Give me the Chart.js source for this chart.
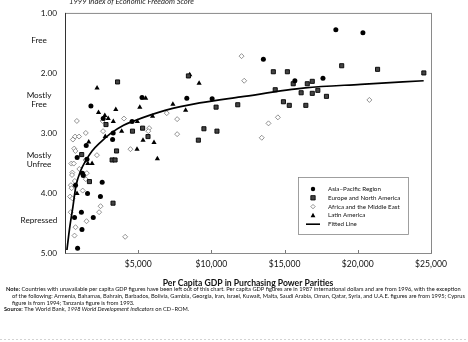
<!DOCTYPE html>
<html>
<head>
<meta charset="utf-8">
<script src="https://cdn.jsdelivr.net/npm/chart.js@4/dist/chart.umd.min.js"></script>
<style>
  html, body { margin: 0; padding: 0; background: #fff; }
  #wrap { position: relative; width: 468px; height: 342px; }
</style>
</head>
<body>
<div id="wrap"><canvas id="freedom"></canvas></div>
<script>
// Per capita GDP (PPP, 1987 intl $) vs. 1999 Index of Economic Freedom score
var asiaGdp = [1770, 2610, 4580, 5260, 8320, 10050, 13550, 15700, 17620, 18500, 20350, 3290, 3250, 1450, 830, 1500, 1190, 1250, 2540, 720, 1540, 2420, 1120, 650, 1930, 1160, 860];
var asiaScore = [2.55, 2.76, 2.81, 2.41, 2.42, 2.43, 1.77, 2.13, 2.09, 1.28, 1.33, 3.00, 3.11, 3.21, 3.41, 3.44, 3.67, 3.71, 3.82, 3.87, 4.01, 4.06, 4.32, 4.41, 4.41, 4.61, 4.92];

var europeGdp = [3590, 2800, 4610, 5300, 5670, 9490, 10380, 9110, 8430, 10320, 11800, 14230, 15190, 15590, 16550, 16890, 14360, 17270, 16130, 16890, 17860, 14920, 15320, 16450, 18900, 21350, 24510, 1140, 1670, 3280, 3520, 3220, 3420];
var europeScore = [2.15, 2.86, 2.97, 2.92, 3.06, 2.93, 2.97, 3.12, 2.05, 2.57, 2.53, 1.98, 1.98, 2.18, 2.18, 2.14, 2.28, 2.29, 2.33, 2.34, 2.39, 2.48, 2.54, 2.54, 1.88, 1.94, 2.00, 3.36, 3.81, 4.17, 3.30, 3.45, 3.45];

var africaGdp = [810, 2570, 4030, 6950, 7660, 1420, 2600, 5750, 5690, 7660, 4470, 12060, 12240, 14540, 13900, 20790, 13440, 540, 690, 960, 630, 710, 1400, 2180, 430, 600, 500, 480, 980, 1490, 1420, 400, 670, 450, 1210, 350, 510, 2430, 2330, 390, 1470, 720, 650, 4110];
var africaScore = [2.80, 2.80, 2.76, 2.67, 2.77, 3.00, 2.97, 2.92, 2.97, 3.02, 3.27, 1.72, 2.13, 2.74, 2.84, 2.45, 3.08, 3.11, 3.06, 3.06, 3.26, 3.30, 3.45, 3.37, 3.51, 3.51, 3.66, 3.70, 3.60, 3.67, 3.77, 3.87, 3.80, 3.92, 3.96, 4.06, 4.09, 4.22, 4.32, 4.32, 4.47, 4.57, 4.71, 4.73];

var latinGdp = [2190, 2290, 2720, 2950, 3300, 3470, 4940, 5510, 5110, 5980, 7370, 8240, 8520, 9160, 2750, 1620, 5330, 6080, 6310, 4920, 1560, 1850, 820, 3870];
var latinScore = [2.25, 2.66, 2.71, 2.76, 2.81, 2.61, 2.81, 2.42, 2.57, 2.72, 2.52, 2.62, 2.03, 2.17, 3.06, 3.15, 3.12, 3.16, 3.43, 3.27, 3.51, 3.51, 4.01, 2.97];

var fitGdp = [130, 330, 540, 750, 1070, 1400, 1850, 2400, 3100, 4000, 4700, 6900, 9200, 12000, 16400, 20200, 24500];
var fitScore = [4.95, 4.56, 4.23, 3.88, 3.63, 3.47, 3.30, 3.16, 3.01, 2.87, 2.80, 2.62, 2.50, 2.40, 2.25, 2.19, 2.13];

var scoreTicks = [1, 2, 3, 4, 5];
var gdpTicks = [5000, 10000, 15000, 20000, 25000];
var bandNames = [['Free'], ['Mostly', 'Free'], ['Mostly', 'Unfree'], ['Repressed']];
var bandMid = [1.5, 2.5, 3.5, 4.5];

var FONT = 'Lato, "Open Sans", sans-serif';

function toPoints(xs, ys) {
  var pts = [];
  for (var i = 0; i < xs.length; i++) pts.push({ x: xs[i], y: ys[i] });
  return pts;
}

var legendItems = [
  { label: 'Asia\u2013Pacific Region', kind: 'circle' },
  { label: 'Europe and North America', kind: 'square' },
  { label: 'Africa and the Middle East', kind: 'diamond' },
  { label: 'Latin America', kind: 'triangle' },
  { label: 'Fitted Line', kind: 'line' }
];

function drawMarker(ctx, kind, x, y) {
  ctx.save();
  ctx.beginPath();
  if (kind === 'circle') {
    ctx.fillStyle = '#000';
    ctx.arc(x, y, 2.2, 0, Math.PI * 2);
    ctx.fill();
  } else if (kind === 'square') {
    ctx.fillStyle = '#444';
    ctx.strokeStyle = '#000';
    ctx.lineWidth = 0.8;
    ctx.rect(x - 2.2, y - 2.2, 4.4, 4.4);
    ctx.fill(); ctx.stroke();
  } else if (kind === 'diamond') {
    ctx.strokeStyle = '#666';
    ctx.lineWidth = 0.7;
    ctx.moveTo(x, y - 2.2); ctx.lineTo(x + 2.2, y); ctx.lineTo(x, y + 2.2); ctx.lineTo(x - 2.2, y); ctx.closePath();
    ctx.stroke();
  } else if (kind === 'triangle') {
    ctx.fillStyle = '#000';
    ctx.moveTo(x, y - 2.6); ctx.lineTo(x + 2.4, y + 1.8); ctx.lineTo(x - 2.4, y + 1.8); ctx.closePath();
    ctx.fill();
  } else {
    ctx.strokeStyle = '#000';
    ctx.lineWidth = 1.6;
    ctx.moveTo(x - 7, y); ctx.lineTo(x + 7, y);
    ctx.stroke();
  }
  ctx.restore();
}

// frame, inner ticks, band names, header, legend box and notes
var decorations = {
  id: 'decorations',
  afterDraw: function(chart) {
    var ctx = chart.ctx;
    var a = chart.chartArea;
    var xs = chart.scales.x, ys = chart.scales.y;
    ctx.save();

    // plot frame
    ctx.strokeStyle = '#8a8a8a';
    ctx.lineWidth = 1;
    ctx.strokeRect(a.left + 0.5, a.top + 0.5, a.right - a.left, a.bottom - a.top);
    ctx.strokeStyle = '#333';
    ctx.beginPath();
    ctx.moveTo(a.left + 0.5, a.top); ctx.lineTo(a.left + 0.5, a.bottom + 0.5);
    ctx.stroke();

    // small ticks pointing into the plot
    ctx.strokeStyle = '#777';
    gdpTicks.forEach(function(v) {
      var px = Math.round(xs.getPixelForValue(v)) + 0.5;
      ctx.beginPath();
      ctx.moveTo(px, a.bottom); ctx.lineTo(px, a.bottom - 3);
      ctx.stroke();
    });

    // header score label, partly above the page edge
    ctx.fillStyle = '#222';
    ctx.font = 'italic 7.6px ' + FONT;
    ctx.textAlign = 'left';
    ctx.textBaseline = 'alphabetic';
    ctx.fillText('1999 Index of Economic Freedom Score', 69, 4);

    // freedom bands on the left
    ctx.font = '8.2px ' + FONT;
    ctx.textAlign = 'center';
    ctx.textBaseline = 'middle';
    ctx.fillStyle = '#111';
    bandNames.forEach(function(lines, i) {
      var py = ys.getPixelForValue(bandMid[i]) - 3;
      var top = py - (lines.length - 1) * 4.2;
      lines.forEach(function(t, j) {
        ctx.fillText(t, 39, top + j * 8.4);
      });
    });

    // legend box
    var lx = 298, ly = 177, lw = 110, lh = 57;
    ctx.fillStyle = '#fff';
    ctx.fillRect(lx, ly, lw, lh);
    ctx.strokeStyle = '#888';
    ctx.lineWidth = 0.8;
    ctx.strokeRect(lx + 0.5, ly + 0.5, lw, lh);
    ctx.font = '6.2px ' + FONT;
    ctx.textAlign = 'left';
    ctx.fillStyle = '#111';
    legendItems.forEach(function(item, i) {
      var ry = ly + 12 + i * 8.8;
      drawMarker(ctx, item.kind, 313, ry);
      ctx.fillText(item.label, 328, ry);
    });

    // notes under the chart
    var body = 'Countries with unavailable per capita GDP figures have been left out of this chart. Per capita GDP figures are in 1987 international dollars and are from 1996, with the exception';
    ctx.textBaseline = 'alphabetic';
    var size = 5.6;
    ctx.font = size + 'px ' + FONT;
    var w = ctx.measureText('Note: ' + body).width;
    size = size * 455 / w;
    var reg = size.toFixed(2) + 'px ' + FONT;
    var bold = 'bold ' + reg;
    var ital = 'italic ' + reg;
    ctx.fillStyle = '#111';

    function runs(parts, x, y) {
      parts.forEach(function(p) {
        ctx.font = p[1];
        ctx.fillText(p[0], x, y);
        x += ctx.measureText(p[0]).width;
      });
    }
    runs([['Note:', bold], [' ' + body, reg]], 6, 291);
    runs([['of the following: Armenia, Bahamas, Bahrain, Barbados, Bolivia, Gambia, Georgia, Iran, Israel, Kuwait, Malta, Saudi Arabia, Oman, Qatar, Syria, and U.A.E. figures are from 1995; Cyprus', reg]], 12, 298);
    runs([['figure is from 1994; Tanzania figure is from 1993.', reg]], 12, 304.5);
    runs([['Source:', bold], [' The World Bank, ', reg], ['1998 World Development Indicators', ital], [' on CD\u2013ROM.', reg]], 4, 311);

    // faint rule at the foot of the page
    ctx.strokeStyle = '#c8c8c8';
    ctx.setLineDash([2, 2]);
    ctx.beginPath();
    ctx.moveTo(0, 339.5); ctx.lineTo(468, 339.5);
    ctx.stroke();
    ctx.restore();
  }
};

window.addEventListener('load', function() {
  new Chart(document.getElementById('freedom'), {
    type: 'scatter',
    data: {
      datasets: [
        {
          label: 'Fitted Line',
          type: 'line',
          data: toPoints(fitGdp, fitScore),
          borderColor: '#000',
          borderWidth: 1.7,
          pointRadius: 0,
          fill: false,
          cubicInterpolationMode: 'monotone'
        },
        {
          label: 'Asia\u2013Pacific Region',
          data: toPoints(asiaGdp, asiaScore),
          pointStyle: 'circle',
          pointRadius: 2.5,
          backgroundColor: '#000',
          borderColor: '#000',
          borderWidth: 0
        },
        {
          label: 'Europe and North America',
          data: toPoints(europeGdp, europeScore),
          pointStyle: 'rect',
          pointRadius: 2.9,
          backgroundColor: '#444',
          borderColor: '#000',
          borderWidth: 0.9
        },
        {
          label: 'Africa and the Middle East',
          data: toPoints(africaGdp, africaScore),
          pointStyle: 'rectRot',
          pointRadius: 2.5,
          backgroundColor: '#fff',
          borderColor: '#666',
          borderWidth: 0.7
        },
        {
          label: 'Latin America',
          data: toPoints(latinGdp, latinScore),
          pointStyle: 'triangle',
          pointRadius: 3,
          backgroundColor: '#000',
          borderColor: '#000',
          borderWidth: 0
        }
      ]
    },
    options: {
      responsive: true,
      maintainAspectRatio: false,
      animation: false,
      layout: { autoPadding: false, padding: { top: 8, right: 37, bottom: 54, left: 0 } },
      plugins: {
        legend: { display: false },
        tooltip: { enabled: false }
      },
      scales: {
        x: {
          type: 'linear',
          min: 0,
          max: 25000,
          afterFit: function(s) { s.height = 35; },
          afterBuildTicks: function(s) {
            s.ticks = gdpTicks.map(function(v) { return { value: v }; });
          },
          ticks: {
            padding: 6,
            color: '#111',
            font: { family: FONT, size: 8.6 },
            maxRotation: 0,
            callback: function(v) { return '$' + v.toLocaleString('en-US'); }
          },
          grid: { display: false, drawTicks: false },
          border: { display: false },
          title: {
            display: true,
            text: 'Per Capita GDP in Purchasing Power Parities',
            color: '#111',
            font: { family: FONT, size: 8.6, weight: 'bold' },
            padding: 0
          }
        },
        y: {
          type: 'linear',
          reverse: true,
          min: 1,
          max: 5,
          afterFit: function(s) { s.width = 65; },
          afterBuildTicks: function(s) {
            s.ticks = scoreTicks.map(function(v) { return { value: v }; });
          },
          ticks: {
            padding: 8,
            color: '#111',
            font: { family: FONT, size: 8.2 },
            callback: function(v) { return v.toFixed(2); }
          },
          grid: { display: false, drawTicks: false },
          border: { display: false }
        }
      }
    },
    plugins: [decorations]
  });
});
</script>
</body>
</html>
